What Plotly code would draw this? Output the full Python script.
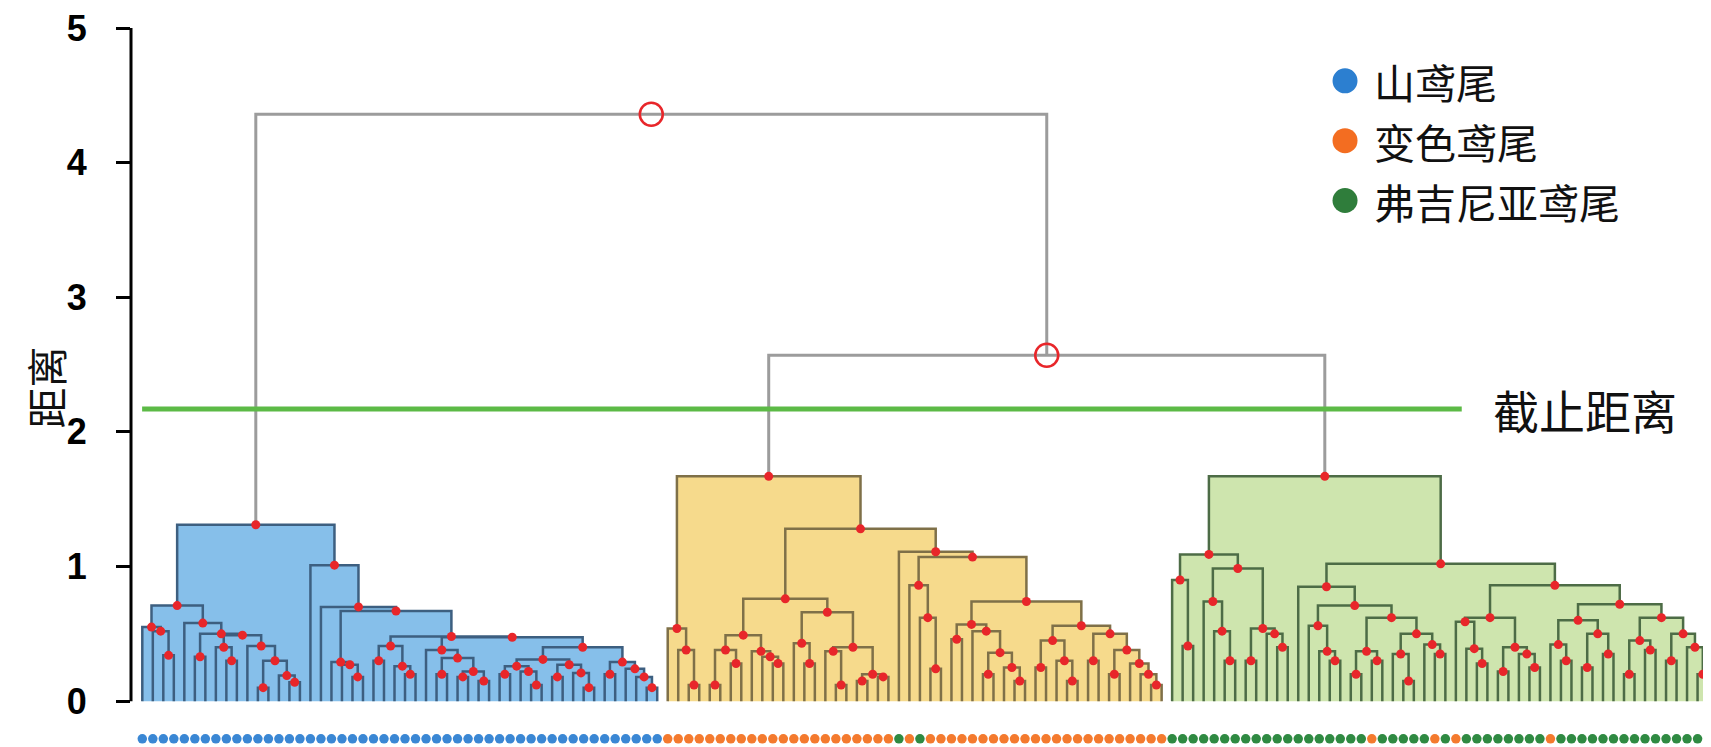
import plotly.graph_objects as go

# 树状图数据：每个内部节点 [合并高度, 左子树, 右子树]，叶子为其序号（从左到右 0..149）
blue_tree = [1.31,
    [0.71,
        [0.55, 0, [0.52, 1, [0.34, 2, 3]]],
        [0.58, 4,
            [0.50, [0.33, 5, 6],
                [0.49, [0.40, 7, [0.30, 8, 9]],
                    [0.41, 10, [0.30, [0.10, 11, 12], [0.19, 13, [0.14, 14, 15]]]]]]]],
    [1.01, 16,
        [0.70, 17,
            [0.67, [0.29, 18, [0.27, 19, [0.18, 20, 21]]],
                [0.48, [0.41, [0.30, 22, 23], [0.26, 24, [0.20, 25, 26]]],
                    [0.475, [0.38, 27, [0.32, [0.20, 28, 29], [0.22, [0.18, 30, 31], [0.15, 32, 33]]]],
                        [0.40,
                            [0.31, [0.26, [0.20, 34, 35], [0.22, 36, [0.12, 37, 38]]],
                                   [0.27, [0.18, 39, 40], [0.21, 41, [0.10, 42, 43]]]],
                            [0.29, [0.20, 44, 45], [0.24, 46, [0.18, 47, [0.10, 48, 49]]]]]]]]]]]

yellow_tree = [1.67,
    [0.54, 50, [0.38, 51, [0.12, 52, 53]]],
    [1.28,
        [0.76,
            [0.49, [0.38, [0.12, 54, 55], [0.28, 56, 57]], [0.37, 58, [0.33, 59, [0.28, 60, 61]]]],
            [0.66, [0.43, 62, [0.28, 63, 64]],
                [0.40, [0.37, 65, [0.12, 66, 67]], [0.20, [0.15, 68, 69], [0.18, 70, 71]]]]],
        [1.11, 72,
            [1.07,
                [0.86, 73, [0.62, 74, [0.24, 75, 76]]],
                [0.74,
                    [0.57, [0.46, 77, 78], [0.52, 79, [0.36, [0.20, 80, 81], [0.25, 82, [0.15, 83, 84]]]]],
                    [0.56, [0.45, [0.25, 85, 86], [0.30, 87, [0.15, 88, 89]]],
                        [0.50, [0.30, 90, 91], [0.38, [0.20, 92, 93], [0.28, 94, [0.20, 95, [0.12, 96, 97]]]]]]]]]]]

green_tree = [1.67,
    [1.09,
        [0.90, 98, [0.41, 99, 100]],
        [0.985, [0.74, 101, [0.52, 102, [0.30, 103, 104]]],
                [0.54, [0.30, 105, 106], [0.50, 107, [0.40, 108, 109]]]]],
    [1.02,
        [0.85, 110,
            [0.71, [0.56, 111, [0.37, 112, [0.30, 113, 114]]],
                [0.62, [0.37, [0.20, 115, 116], [0.30, 117, 118]],
                    [0.50, [0.35, 119, [0.15, 120, 121]], [0.42, 122, [0.35, 123, 124]]]]]],
        [0.86,
            [0.62, [0.59, 125, [0.39, 126, [0.28, 127, 128]]],
                   [0.40, [0.22, 129, 130], [0.35, 131, [0.25, 132, 133]]]],
            [0.72,
                [0.60, [0.42, 134, [0.30, 135, 136]], [0.50, [0.25, 137, 138], [0.35, 139, 140]]],
                [0.62, [0.45, [0.20, 141, 142], [0.38, 143, 144]],
                       [0.50, [0.30, 145, 146], [0.40, 147, [0.20, 148, 149]]]]]]]]

# 最上面两次合并
top_tree = [4.36, "blue", [2.57, "yellow", "green"]]
cutoff_height = 2.17

# 每个叶子的真实品种（0 山鸢尾, 1 变色鸢尾, 2 弗吉尼亚鸢尾）
species_blue = "00000000000000000000000000000000000000000000000000"
species_yellow = "111111111111111111111121211111111111111111111111"
species_green = "2222222222222222222122222121222222221222222222222222"
species_names = ["山鸢尾", "变色鸢尾", "弗吉尼亚鸢尾"]

cluster_trees = {"blue": blue_tree, "yellow": yellow_tree, "green": green_tree}
fill_colors = {"blue": "#86bfea", "yellow": "#f6da8c", "green": "#cee5ae"}
line_colors = {"blue": "#3d5f80", "yellow": "#7f7048", "green": "#4d6c46", "top": "#9c9c9c"}
species_colors = ["#3a87d4", "#f47a2e", "#2f8a42"]
legend_colors = ["#2c7fd0", "#f36d21", "#2f7d3b"]


def walk(node, group, out):
    if isinstance(node, int):
        return float(node), 0.0
    if isinstance(node, str):
        return walk(cluster_trees[node], node, out)
    h, a, b = node
    xa, ha = walk(a, group, out)
    xb, hb = walk(b, group, out)
    out.append((group, xa, ha, xb, hb, h))
    return (xa + xb) / 2, h


links = []
walk(top_tree, "top", links)

fig = go.Figure()

# 填充
for g in ["blue", "yellow", "green"]:
    xs, ys = [], []
    for grp, xa, ha, xb, hb, h in links:
        if grp == g:
            xs += [xa, xa, xb, xb, xa, None]
            ys += [0, h, h, 0, 0, None]
    fig.add_trace(go.Scatter(x=xs, y=ys, mode="lines", fill="toself",
                             fillcolor=fill_colors[g], line=dict(width=0),
                             hoverinfo="skip", showlegend=False))

# 连线
for g in ["top", "blue", "yellow", "green"]:
    xs, ys = [], []
    for grp, xa, ha, xb, hb, h in links:
        if grp == g:
            xs += [xa, xa, xb, xb, None]
            ys += [ha, h, h, hb, None]
    fig.add_trace(go.Scatter(x=xs, y=ys, mode="lines",
                             line=dict(color=line_colors[g], width=3 if g == "top" else 2.5),
                             hoverinfo="skip", showlegend=False))

# 合并点
dots = [((xa + xb) / 2, h) for grp, xa, ha, xb, hb, h in links if grp != "top"]
fig.add_trace(go.Scatter(x=[d[0] for d in dots], y=[d[1] for d in dots], mode="markers",
                         marker=dict(color="#e8262a", size=9), showlegend=False))
rings = [((xa + xb) / 2, h) for grp, xa, ha, xb, hb, h in links if grp == "top"]
fig.add_trace(go.Scatter(x=[d[0] for d in rings], y=[d[1] for d in rings], mode="markers",
                         marker=dict(color="rgba(0,0,0,0)", size=23,
                                     line=dict(color="#e8262a", width=2.5)),
                         showlegend=False))

# 底部品种色点
species = species_blue + species_yellow + species_green
for k, name in enumerate(species_names):
    idx = [i for i, s in enumerate(species) if int(s) == k]
    fig.add_trace(go.Scatter(x=idx, y=[-0.28] * len(idx), mode="markers", name=name,
                             marker=dict(color=species_colors[k], size=9.5),
                             showlegend=False))

cjk = "Noto Sans CJK SC"
shapes = [
    dict(type="line", xref="paper", yref="y", x0=0, x1=0, y0=0, y1=5,
         line=dict(color="black", width=3)),
    dict(type="line", xref="paper", yref="y", x0=0.007, x1=0.838,
         y0=cutoff_height, y1=cutoff_height, line=dict(color="#5cba46", width=5)),
]
annotations = [
    dict(text="截止距离", xref="paper", yref="y", x=0.8567, y=cutoff_height,
         xanchor="left", yanchor="middle", showarrow=False,
         font=dict(family=cjk, size=46, color="#111")),
    dict(text="距离", xref="paper", yref="y", x=0, xshift=-86, y=2.33,
         xanchor="center", yanchor="middle",
         textangle=-90, showarrow=False, font=dict(family=cjk, size=41, color="#111")),
]
# 图例（圆点 + 文字）
legend_y = [0.9273, 0.8450, 0.7627]
for k, name in enumerate(species_names):
    shapes.append(dict(type="circle", xref="paper", yref="paper",
                       xsizemode="pixel", ysizemode="pixel",
                       xanchor=0.7645, yanchor=legend_y[k],
                       x0=-12.5, x1=12.5, y0=-12.5, y1=12.5,
                       fillcolor=legend_colors[k], line=dict(width=0)))
    annotations.append(dict(text=name, xref="paper", yref="paper", x=0.7815, y=legend_y[k],
                            xanchor="left", yanchor="middle", showarrow=False,
                            font=dict(family=cjk, size=41, color="#111")))

fig.update_layout(
    width=1711, height=747,
    margin=dict(l=123, r=0, t=18, b=0),
    plot_bgcolor="white", paper_bgcolor="white",
    xaxis=dict(visible=False, range=[-1.075, 150.04]),
    yaxis=dict(range=[-0.4, 5], tickvals=[0, 1, 2, 3, 4, 5], ticks="outside",
               ticklen=14, tickwidth=3, tickcolor="black", showgrid=False,
               zeroline=False, showline=False, ticklabelstandoff=22,
               ticklabeloverflow="allow",
               tickfont=dict(family="Liberation Sans", size=36, color="black", weight="bold")),
    shapes=shapes, annotations=annotations,
)

fig.write_html("out.html")
